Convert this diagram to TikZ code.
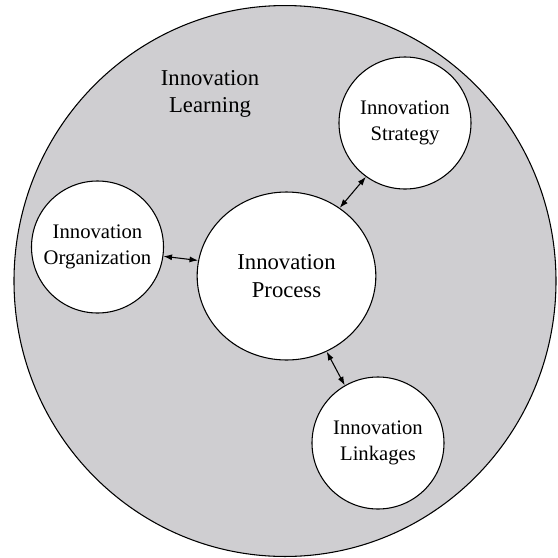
\documentclass[tikz,border=0pt]{standalone}
\usepackage{fontspec}
\setmainfont{Liberation Serif}
\usepackage{tikz}
\usetikzlibrary{arrows.meta}
\usetikzlibrary{shapes.geometric}

\tikzset{
  bubble/.style={draw, line width=0.8pt, fill=white, circle, inner sep=0pt,
    minimum size=99pt, align=center, font=\fontsize{15.5}{19}\selectfont},
  link/.style={line width=0.8pt, {Latex[length=6.5pt,width=4.5pt]}-{Latex[length=6.5pt,width=4.5pt]}}
}

\begin{document}
\begin{tikzpicture}[x=0.75pt,y=0.75pt,yscale=-1,xscale=1]
\useasboundingbox (0,0) rectangle (558,558);

%Shape: Ellipse [outer ring]
\draw [line width=0.8pt, fill={rgb, 255:red, 207; green, 206; blue, 209}] (285,281) ellipse [x radius=203.25pt, y radius=206.6pt];

% Text Node
\node (learn) at (210,94) [align=center, font=\fontsize{17}{20.5}\selectfont] {Innovation\\Learning};

%Shape: Circles
\node (proc) at (286.5,276) [bubble, ellipse, minimum width=134pt, minimum height=126pt, font=\fontsize{17}{21}\selectfont] {Innovation\\Process};
\node (strat) at (405,123) [bubble] {Innovation\\Strategy};
\node (org) at (97.5,247) [bubble] {Innovation\\Organization};
\node (links) at (378,443) [bubble] {Innovation\\Linkages};

%Straight Lines
\draw [link] (org.-8) -- (proc.170);
\draw [link] (strat.-126) -- (proc.52);
\draw [link] (links.120) -- (proc.-62);

\end{tikzpicture}
\end{document}
